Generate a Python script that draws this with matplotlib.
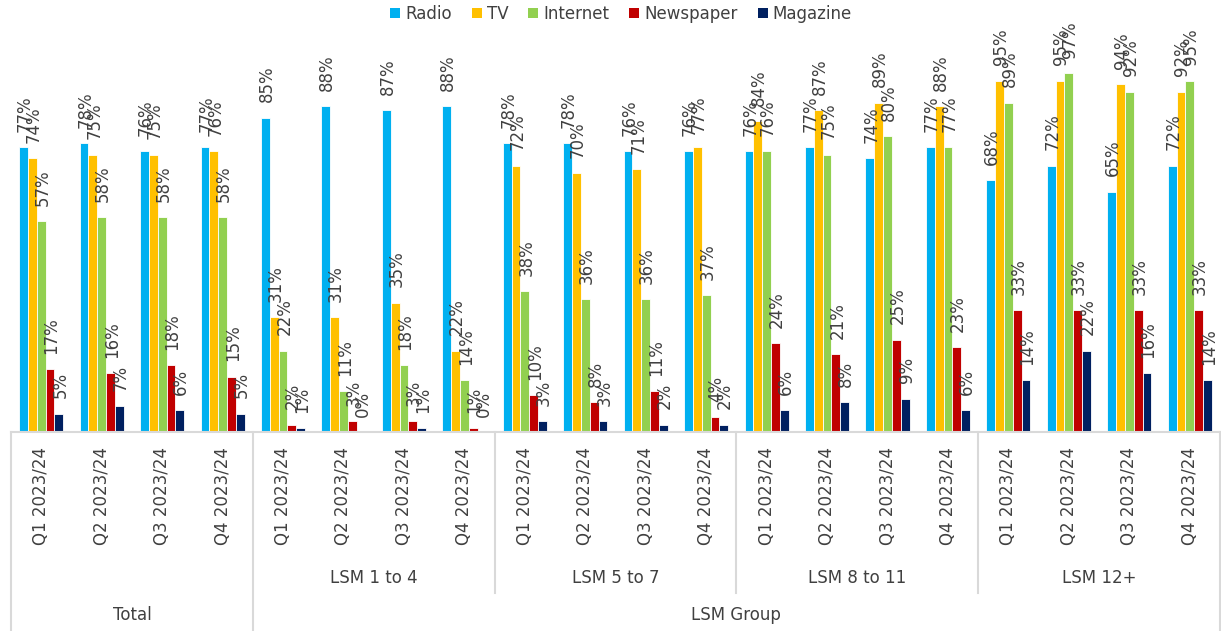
import numpy as np
import matplotlib.pyplot as plt
from matplotlib.transforms import blended_transform_factory
from matplotlib.lines import Line2D
from matplotlib.patches import Patch

quarters = ['Q1 2023/24', 'Q2 2023/24', 'Q3 2023/24', 'Q4 2023/24']
groups = ['Total', 'LSM 1 to 4', 'LSM 5 to 7', 'LSM 8 to 11', 'LSM 12+']
media = ['Radio', 'TV', 'Internet', 'Newspaper', 'Magazine']
colors = ['#00B0F0', '#FFC000', '#92D050', '#C00000', '#002060']

# % reach per quarter, groups in order Total, LSM 1-4, 5-7, 8-11, 12+
radio = [77, 78, 76, 77, 85, 88, 87, 88, 78, 78, 76, 76, 76, 77, 74, 77, 68, 72, 65, 72]
tv = [74, 75, 75, 76, 31, 31, 35, 22, 72, 70, 71, 77, 84, 87, 89, 88, 95, 95, 94, 92]
internet = [57, 58, 58, 58, 22, 11, 18, 14, 38, 36, 36, 37, 76, 75, 80, 77, 89, 97, 92, 95]
newspaper = [17, 16, 18, 15, 2, 3, 3, 1, 10, 8, 11, 4, 24, 21, 25, 23, 33, 33, 33, 33]
magazine = [5, 7, 6, 5, 1, 0, 1, 0, 3, 3, 2, 2, 6, 8, 9, 6, 14, 22, 16, 14]

series = [radio, tv, internet, newspaper, magazine]
txt = '#404040'
grid = '#D9D9D9'

fig = plt.figure(figsize=(12.21, 6.31), dpi=100)
ax = fig.add_axes([11/1221, 1-432/631, (1220-11)/1221, (432-25)/631])

x = np.arange(len(radio))
w = 0.146
for i, (name, vals, c) in enumerate(zip(media, series, colors)):
    pos = x + (i - 2) * w
    bars = ax.bar(pos, vals, width=w, color=c, edgecolor='white', linewidth=0.6, label=name)
    for xb, v in zip(pos, vals):
        ax.annotate(f'{v}%', (xb, v), xytext=(1, 11), textcoords='offset points',
                    rotation=90, ha='center', va='bottom', fontsize=12, color=txt)

ax.set_xlim(-0.5, 19.5)
ax.set_ylim(0, 110)
ax.set_yticks([])
ax.set_xticks([])
for s in ['top', 'right', 'left']:
    ax.spines[s].set_visible(False)
ax.spines['bottom'].set_color(grid)
ax.spines['bottom'].set_linewidth(1.5)

# multi-level category axis
tr = blended_transform_factory(ax.transData, fig.transFigure)
def fy(py):
    return 1 - py / 631

for xi in x:
    fig.text(0, 0, quarters[xi % 4], transform=tr, rotation=90, ha='center', va='top',
             fontsize=12, color=txt).set_position((xi, fy(447)))

for g in range(1, 5):
    ax.text((g * 4 + g * 4 + 3) / 2, fy(578), groups[g], transform=tr, ha='center',
            va='center', fontsize=12, color=txt)
ax.text(1.5, fy(615), 'Total', transform=tr, ha='center', va='center', fontsize=12, color=txt)
ax.text(11.5, fy(615), 'LSM Group', transform=tr, ha='center', va='center', fontsize=12, color=txt)

for xb in [-0.5, 3.5, 19.5]:
    fig.add_artist(Line2D([xb, xb], [fy(432), fy(631)], transform=tr, color=grid, lw=1.5))
for xb in [7.5, 11.5, 15.5]:
    fig.add_artist(Line2D([xb, xb], [fy(432), fy(593)], transform=tr, color=grid, lw=1.5))

handles = [Patch(facecolor=c, label=m) for m, c in zip(media, colors)]
fig.legend(handles=handles, loc='center', bbox_to_anchor=(621/1221, fy(14)), ncol=5,
           frameon=False, fontsize=12, handlelength=0.6, handleheight=0.6,
           handletextpad=0.3, columnspacing=1.2, labelcolor=txt)

fig.savefig('out.png', dpi=100)
